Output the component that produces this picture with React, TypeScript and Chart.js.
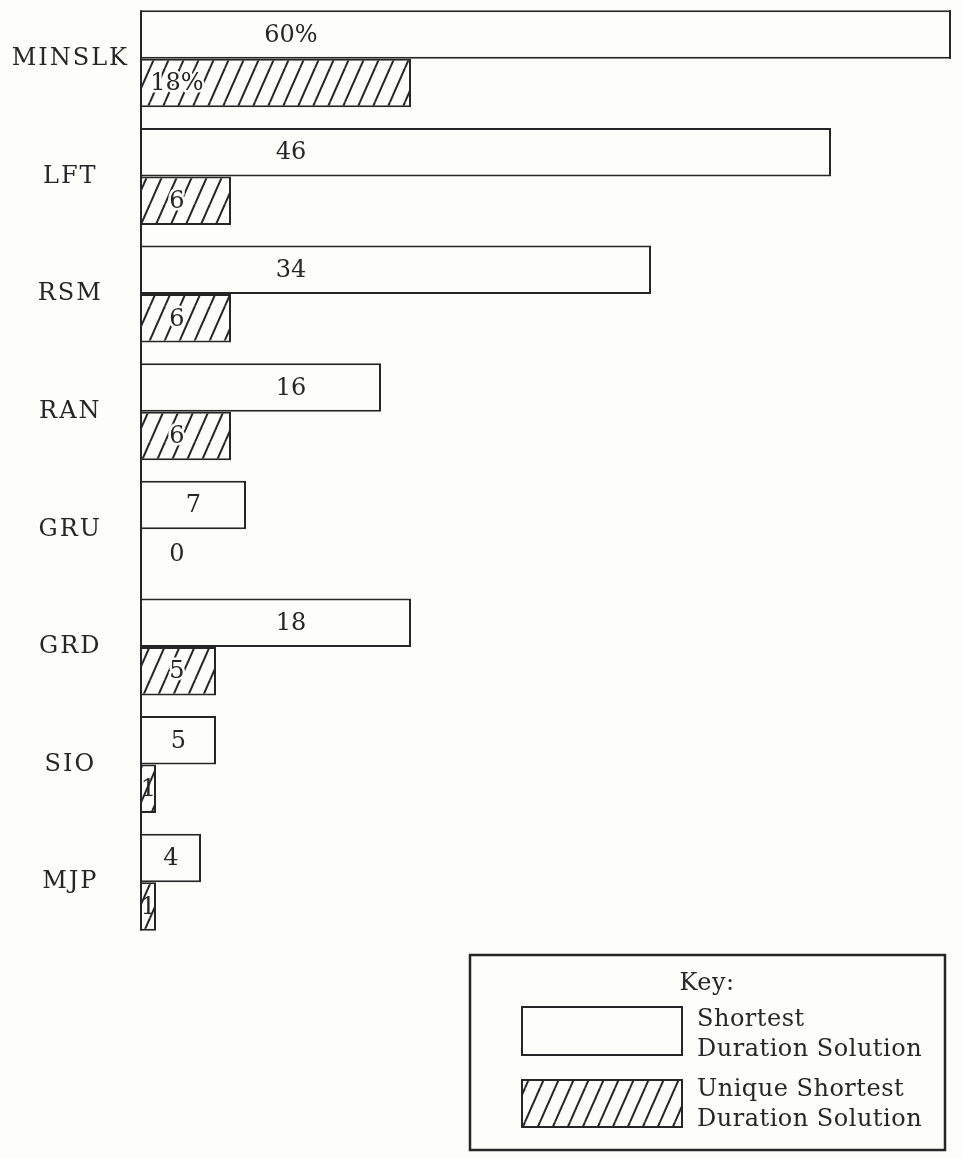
import { useEffect, useRef } from 'react';
import { Chart, registerables } from 'chart.js';

Chart.register(...registerables);

const heuristics = ['MINSLK', 'LFT', 'RSM', 'RAN', 'GRU', 'GRD', 'SIO', 'MJP'];
const shortestPct = [60, 46, 34, 16, 7, 18, 5, 4];
const uniquePct = [18, 6, 6, 6, 0, 5, 1, 1];
// the printed scale is cut off, MINSLK's 60% bar runs into the right edge
const axisMax = 54;

const legendTitle = 'Key:';
const legendShortest = ['Shortest', 'Duration Solution'];
const legendUnique = ['Unique Shortest', 'Duration Solution'];

const INK = '#262626';
const PAPER = '#fdfdf9';
const FONT = '"DejaVu Serif", "Liberation Serif", serif';

function makeHatch(): CanvasPattern | string {
  const w = 15;
  const h = 34;
  const c = document.createElement('canvas');
  c.width = w;
  c.height = h;
  const g = c.getContext('2d');
  if (!g) return PAPER;
  g.fillStyle = PAPER;
  g.fillRect(0, 0, w, h);
  g.strokeStyle = INK;
  g.lineWidth = 2;
  for (const dx of [-w, 0, w]) {
    g.beginPath();
    g.moveTo(dx, h);
    g.lineTo(dx + w, 0);
    g.stroke();
  }
  return g.createPattern(c, 'repeat') ?? PAPER;
}

export default function App() {
  const canvasRef = useRef<HTMLCanvasElement>(null);
  const chartRef = useRef<Chart | null>(null);

  useEffect(() => {
    if (!canvasRef.current) return;
    if (chartRef.current) chartRef.current.destroy();

    const hatch = makeHatch();

    // the printed type is wide, so the tick labels get some tracking
    const tracking = {
      id: 'tracking',
      beforeDraw(chart: any) {
        chart.ctx.letterSpacing = '2px';
      },
      beforeDatasetsDraw(chart: any) {
        chart.ctx.letterSpacing = '0px';
      },
    };

    // value labels, axis line and the cut-off right edge
    const barLabels = {
      id: 'barLabels',
      afterDatasetsDraw(chart: any) {
        const { ctx, chartArea } = chart;
        ctx.save();
        ctx.letterSpacing = '0px';
        ctx.strokeStyle = INK;
        ctx.lineWidth = 2;

        const first = chart.getDatasetMeta(0).data[0];
        const lastMeta = chart.getDatasetMeta(1).data;
        const last = lastMeta[lastMeta.length - 1];
        ctx.beginPath();
        ctx.moveTo(chartArea.left, first.y - first.height / 2);
        ctx.lineTo(chartArea.left, last.y + last.height / 2);
        ctx.stroke();

        ctx.font = `24px ${FONT}`;
        ctx.textAlign = 'center';
        ctx.textBaseline = 'middle';
        chart.data.datasets.forEach((ds: any, di: number) => {
          const meta = chart.getDatasetMeta(di);
          meta.data.forEach((el: any, i: number) => {
            const v = ds.data[i] as number;
            if (el.x > chartArea.right) {
              ctx.strokeStyle = INK;
              ctx.lineWidth = 2;
              ctx.beginPath();
              ctx.moveTo(chartArea.right - 1, el.y - el.height / 2);
              ctx.lineTo(chartArea.right - 1, el.y + el.height / 2);
              ctx.stroke();
            }
            const w = Math.min(el.x, chartArea.right) - el.base;
            let off: number;
            if (di === 0) off = w > 200 ? 150 : w / 2;
            else off = v === 0 || w / 2 > 35 ? 36 : w / 2;
            const txt = i === 0 ? `${v}%` : `${v}`;
            const tx = el.base + off;
            if (di === 1 && v > 1) {
              // the hatching stops short of the printed numbers
              ctx.strokeStyle = PAPER;
              ctx.lineWidth = 5;
              ctx.lineJoin = 'round';
              ctx.strokeText(txt, tx, el.y + 1);
            }
            ctx.fillStyle = INK;
            ctx.fillText(txt, tx, el.y + 1);
          });
        });
        ctx.restore();
      },
    };

    const keyBox = {
      id: 'keyBox',
      afterDraw(chart: any) {
        const { ctx } = chart;
        ctx.save();
        ctx.letterSpacing = '0.5px';
        ctx.strokeStyle = INK;
        ctx.lineWidth = 2.5;
        ctx.strokeRect(470, 955, 475, 195);

        ctx.font = `24px ${FONT}`;
        ctx.fillStyle = INK;
        ctx.textBaseline = 'alphabetic';
        ctx.textAlign = 'center';
        ctx.fillText(legendTitle, 707, 990);

        ctx.lineWidth = 2;
        ctx.fillStyle = PAPER;
        ctx.fillRect(522, 1007, 160, 48);
        ctx.strokeRect(522, 1007, 160, 48);
        ctx.fillStyle = hatch;
        ctx.fillRect(522, 1080, 160, 47);
        ctx.strokeRect(522, 1080, 160, 47);

        ctx.fillStyle = INK;
        ctx.textAlign = 'left';
        legendShortest.forEach((t, i) => ctx.fillText(t, 697, 1026 + i * 30));
        legendUnique.forEach((t, i) => ctx.fillText(t, 697, 1096 + i * 30));
        ctx.restore();
      },
    };

    chartRef.current = new Chart(canvasRef.current, {
      type: 'bar',
      data: {
        labels: heuristics,
        datasets: [
          {
            label: 'Shortest Duration Solution',
            data: shortestPct,
            backgroundColor: PAPER,
            borderColor: INK,
            borderWidth: 2,
            barPercentage: 1,
            categoryPercentage: 0.825,
            clip: 0,
          },
          {
            label: 'Unique Shortest Duration Solution',
            data: uniquePct,
            backgroundColor: hatch as any,
            borderColor: INK,
            borderWidth: 2,
            barPercentage: 1,
            categoryPercentage: 0.825,
            clip: 0,
          },
        ],
      },
      options: {
        indexAxis: 'y',
        responsive: false,
        animation: false,
        layout: { padding: { top: 0, bottom: 218, left: 0, right: 12 } },
        plugins: {
          legend: { display: false },
          tooltip: { enabled: false },
        },
        scales: {
          x: { display: false, min: 0, max: axisMax },
          y: {
            grid: { display: false },
            border: { display: false },
            ticks: {
              color: INK,
              padding: 10,
              crossAlign: 'center',
              font: { family: FONT, size: 24 },
            },
            afterFit: (s: any) => {
              s.width = 141;
              s.paddingTop = 0;
              s.paddingBottom = 0;
            },
          },
        },
      },
      plugins: [tracking, barLabels, keyBox],
    });

    return () => {
      if (chartRef.current) {
        chartRef.current.destroy();
        chartRef.current = null;
      }
    };
  }, []);

  return (
    <div style={{ position: 'absolute', left: 0, top: 0, width: 963, height: 1159, background: PAPER }}>
      <canvas ref={canvasRef} width={963} height={1159} style={{ width: 963, height: 1159 }} />
    </div>
  );
}
